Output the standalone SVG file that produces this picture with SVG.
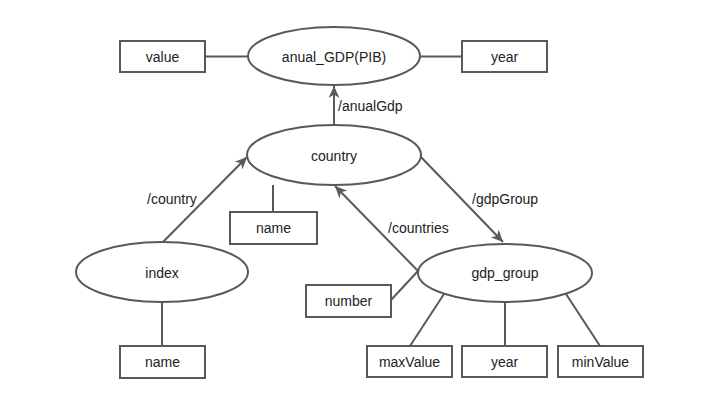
<svg xmlns="http://www.w3.org/2000/svg" width="720" height="405" viewBox="0 0 720 405">
<style>
.n{fill:#fff;stroke:#595959;stroke-width:2}
.t{font-family:"Liberation Sans",Arial,sans-serif;font-size:14px;fill:#222;text-anchor:middle;dominant-baseline:central}
.l{font-family:"Liberation Sans",Arial,sans-serif;font-size:14px;fill:#222}
.c{stroke:#595959;stroke-width:2;fill:none}
.a{marker-end:url(#ah)}
</style>
<defs>
<marker id="ah" markerUnits="userSpaceOnUse" markerWidth="14" markerHeight="12" refX="12" refY="6" orient="auto">
<path d="M0,0.5 L12,6 L0,11.5 L3.5,6 z" fill="#595959"/>
</marker>
</defs>
<rect width="720" height="405" fill="#fff"/>
<g id="connectors">
<line class="c" x1="205" y1="56.5" x2="248" y2="56.5"/>
<line class="c" x1="420" y1="56.5" x2="462" y2="56.5"/>
<line class="c a" x1="334" y1="125" x2="334" y2="86"/>
<line class="c a" x1="163" y1="242" x2="247" y2="157"/>
<line class="c a" x1="420" y1="156" x2="503" y2="242"/>
<line class="c a" x1="418" y1="271" x2="335" y2="186"/>
<line class="c" x1="273" y1="185" x2="273" y2="212"/>
<line class="c" x1="162" y1="302" x2="162" y2="346"/>
<line class="c" x1="391" y1="300" x2="418" y2="271"/>
<line class="c" x1="444" y1="294" x2="410" y2="346"/>
<line class="c" x1="505" y1="302" x2="505" y2="346"/>
<line class="c" x1="566" y1="294" x2="600" y2="346"/>
<text class="l" x="338" y="111">/anualGdp</text>
<text class="l" x="147" y="204">/country</text>
<text class="l" x="472" y="204">/gdpGroup</text>
<text class="l" x="388" y="233">/countries</text>
</g>
<g id="anual_gdp"><ellipse class="n" cx="334" cy="56" rx="86" ry="29"/><text class="t" x="334" y="57">anual_GDP(PIB)</text></g>
<g id="value"><rect class="n" x="120" y="41" width="85" height="31"/><text class="t" x="162.5" y="56.5">value</text></g>
<g id="year_top"><rect class="n" x="462" y="41" width="85" height="31"/><text class="t" x="504.5" y="56.5">year</text></g>
<g id="country"><ellipse class="n" cx="334" cy="155" rx="87" ry="30"/><text class="t" x="334" y="155.5">country</text></g>
<g id="country_name"><rect class="n" x="230" y="212" width="87" height="32"/><text class="t" x="273.5" y="228">name</text></g>
<g id="index"><ellipse class="n" cx="162" cy="272" rx="86" ry="30"/><text class="t" x="162" y="272.5">index</text></g>
<g id="index_name"><rect class="n" x="120" y="346" width="85" height="32"/><text class="t" x="162.5" y="362">name</text></g>
<g id="gdp_group"><ellipse class="n" cx="505" cy="273" rx="87" ry="29"/><text class="t" x="505" y="273">gdp_group</text></g>
<g id="number"><rect class="n" x="306" y="285" width="85" height="32"/><text class="t" x="348.5" y="301">number</text></g>
<g id="maxValue"><rect class="n" x="367" y="346" width="85" height="31"/><text class="t" x="409.5" y="361.5">maxValue</text></g>
<g id="year_bottom"><rect class="n" x="462" y="346" width="85" height="31"/><text class="t" x="504.5" y="361.5">year</text></g>
<g id="minValue"><rect class="n" x="558" y="346" width="85" height="31"/><text class="t" x="600.5" y="361.5">minValue</text></g>
</svg>
